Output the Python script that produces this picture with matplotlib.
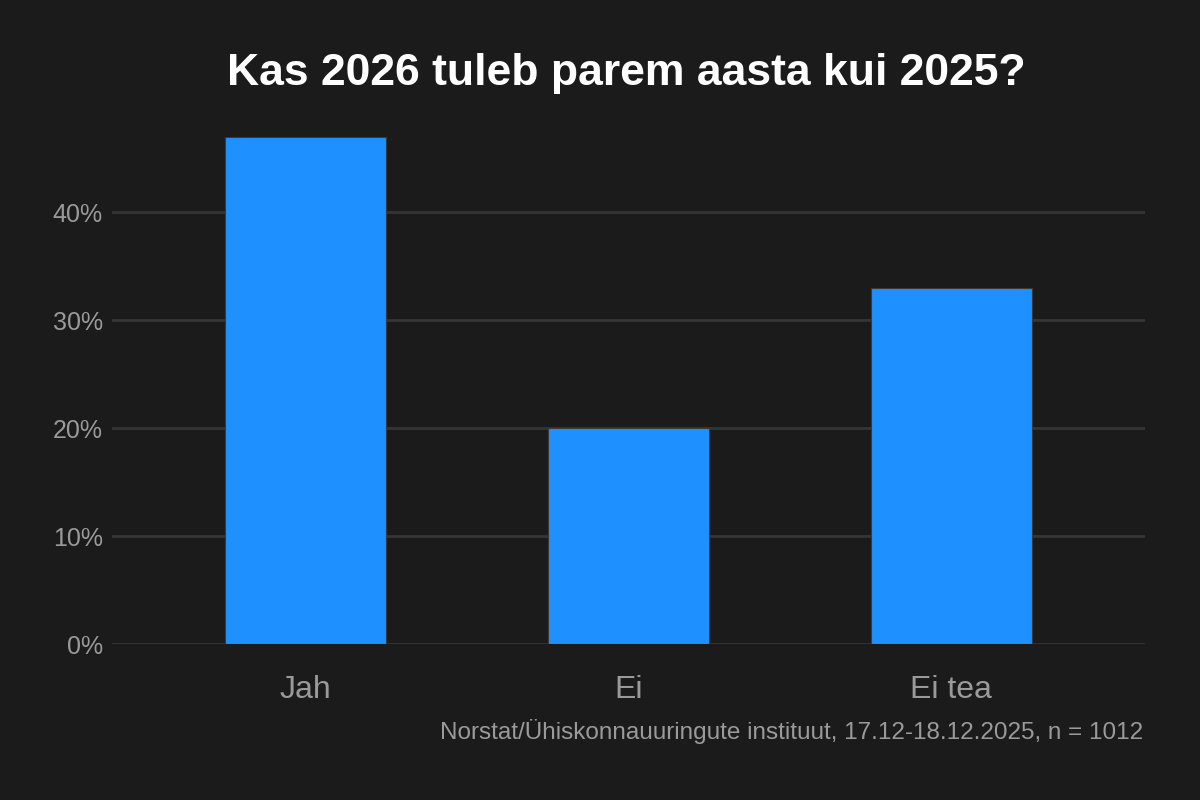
import matplotlib.pyplot as plt
from matplotlib.ticker import FuncFormatter

categories = ['Jah', 'Ei', 'Ei tea']
shares = [47, 20, 33]
yticks = [0, 10, 20, 30, 40]

title = 'Kas 2026 tuleb parem aasta kui 2025?'
caption = 'Norstat/Ühiskonnauuringute instituut, 17.12-18.12.2025, n = 1012'

bg = '#1b1b1b'
grid_col = '#353535'
text_col = '#9a9a9a'
bar_col = '#1e90ff'

plt.rcParams['font.family'] = ['Liberation Sans', 'DejaVu Sans']

fig = plt.figure(figsize=(12, 8), dpi=100, facecolor=bg)
ax = fig.add_axes([0.0933, 0.195, 0.861, 0.666])
ax.set_facecolor(bg)

xs = list(range(len(categories)))
ax.bar(xs, shares, width=0.5, color=bar_col, edgecolor='#3a3a3a', linewidth=0.8, zorder=3)

ax.set_xlim(-0.6, len(categories) - 0.4)
ax.set_ylim(0, max(shares) * 1.05)
ax.set_yticks(yticks)
ax.yaxis.set_major_formatter(FuncFormatter(lambda v, p: f'{v:.0f}%'))
ax.set_xticks(xs)
ax.set_xticklabels(categories)

ax.grid(axis='y', color=grid_col, linewidth=2, zorder=0)
ax.grid(axis='x', visible=False)
for s in ax.spines.values():
    s.set_visible(False)
ax.tick_params(axis='y', length=0, pad=6.5, labelsize=18, labelcolor=text_col)
ax.tick_params(axis='x', length=0, pad=22, labelsize=23, labelcolor=text_col)

fig.text(0.522, 0.908, title, ha='center', va='center', color='white',
         fontsize=32, fontweight='bold')
fig.text(0.953, 0.085, caption, ha='right', va='center', color=text_col, fontsize=17.5)

fig.savefig('out.png', dpi=100, facecolor=bg)
